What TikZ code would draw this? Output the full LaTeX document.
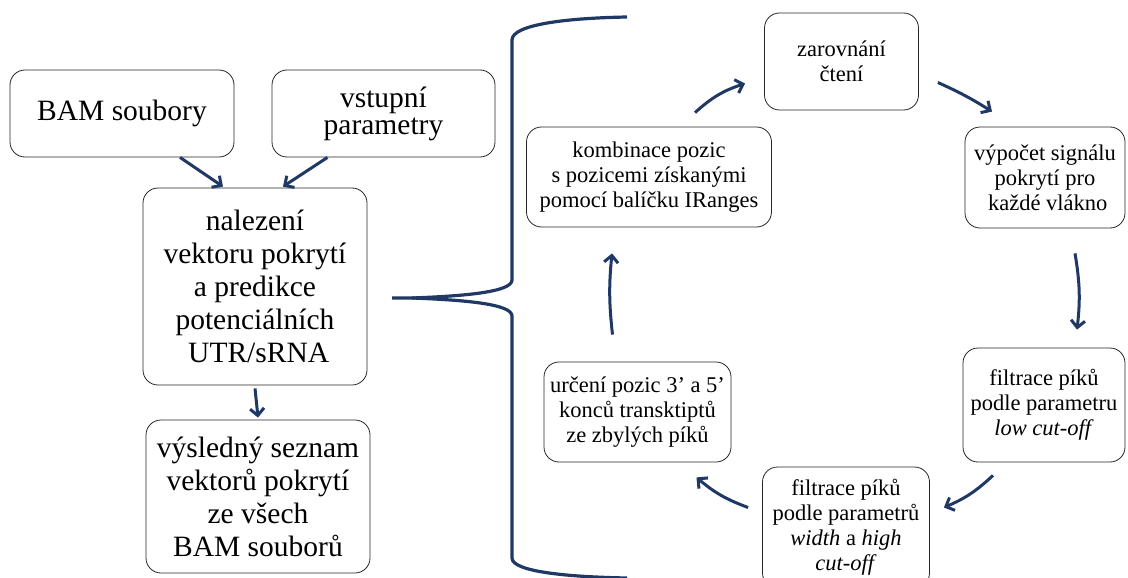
\documentclass[tikz,border=0pt]{standalone}
\usepackage{fontspec}
\setmainfont{Liberation Serif}
\usetikzlibrary{arrows.meta}
\definecolor{navy}{RGB}{31,56,100}

\begin{document}
\begin{tikzpicture}[x=1pt,y=-1pt,
    box/.style={draw=black!85,line width=0.8pt,rounded corners=15pt,align=center,inner sep=0pt},
    bigbox/.style={box,font=\fontsize{29.5}{33}\selectfont},
    smallbox/.style={box,font=\fontsize{22.5}{25}\selectfont},
    flow/.style={draw=navy,line width=3pt,-{Straight Barb[length=7pt,width=14pt]}},
    brace/.style={draw=navy,line width=3.2pt}]
  \useasboundingbox (0,0) rectangle (1128,578);
  \clip (0,0) rectangle (1128,578);

  % left column
  \node[bigbox,minimum width=224pt,minimum height=87pt] (bam) at (122,113.5) {BAM soubory};
  \node[bigbox,minimum width=223pt,minimum height=87pt,font=\fontsize{29.5}{27}\selectfont] (par) at (383.5,113.5) {vstupní\\parametry};
  \node[bigbox,minimum width=224pt,minimum height=197pt] (nal) at (255,286.5)
    {nalezení\\vektoru pokrytí\\a predikce\\potenciálních\\~UTR/sRNA};
  \node[bigbox,minimum width=224pt,minimum height=153pt] (vys) at (258,496.5)
    {výsledný seznam\\vektorů pokrytí\\ze všech\\ BAM souborů};

  \path[flow] ([shift={(58,0)}]bam.south) -- ([shift={(-32,-1)}]nal.north);
  \path[flow] ([shift={(-56,0)}]par.south) -- ([shift={(28,-1)}]nal.north);
  \path[flow] ([shift={(0,3)}]nal.south) -- ([shift={(0,-2)}]vys.north);

  % brace
  \path[brace] (627,17) .. controls (570,18) and (512,24) .. (512,40) -- (512,280)
    .. controls (512,292) and (465,296) .. (412,298) -- (392,298);
  \path[brace] (412,298) .. controls (465,300) and (512,304) .. (512,316) -- (512,558)
    .. controls (512,572) and (570,577) .. (627,578);

  % cycle
  \node[smallbox,minimum width=154pt,minimum height=97pt] (zar) at (841.5,61.5) {zarovnání\\čtení};
  \node[smallbox,minimum width=160pt,minimum height=101pt] (vyp) at (1045,177.5)
    {výpočet signálu\\pokrytí pro\\~každé vlákno};
  \node[smallbox,minimum width=162pt,minimum height=114pt] (fila) at (1044,405)
    {filtrace píků\\podle parametru\\\textit{low cut-off}};
  \node[smallbox,minimum width=167pt,minimum height=121pt] (filb) at (846,527.5)
    {filtrace píků\\podle parametrů\\\textit{width} a \textit{high}\\ \textit{cut-off}};
  \node[smallbox,minimum width=187pt,minimum height=100pt] (urc) at (637.5,412)
    {určení pozic 3’ a 5’\\konců transktiptů\\ze zbylých píků};
  \node[smallbox,minimum width=245pt,minimum height=100pt] (kom) at (649,177)
    {kombinace pozic\\s pozicemi získanými\\pomocí balíčku IRanges};

  \path[flow] ([shift={(46,-14)}]kom.north) to[bend left=12] ([shift={(-19,22)}]zar.west);
  \path[flow] ([shift={(19,21)}]zar.east) to[bend left=4] ([shift={(-53,-15)}]vyp.north);
  \path[flow] ([shift={(30,25)}]vyp.south) to[bend left=8] ([shift={(33,-18)}]fila.north);
  \path[flow] ([shift={(-51,13)}]fila.south) to[bend left=10] ([shift={(14,-20)}]filb.east);
  \path[flow] ([shift={(-14,-20)}]filb.west) to[bend left=10] ([shift={(59,15)}]urc.south);
  \path[flow] ([shift={(-25,-27)}]urc.north) to[bend left=6] ([shift={(-37,26)}]kom.south);
\end{tikzpicture}
\end{document}
